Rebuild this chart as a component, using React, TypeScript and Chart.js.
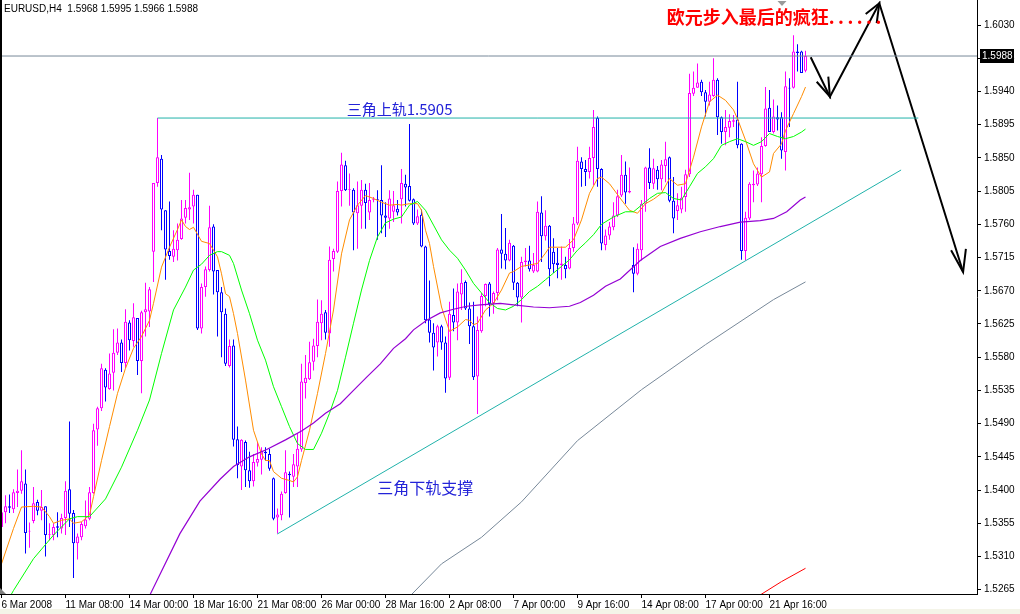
import React, { useEffect, useRef } from 'react';
import { Chart, registerables } from 'chart.js';

Chart.register(...registerables);

const SYMBOL = 'EURUSD';
const TIMEFRAME = 'H4';

// H4 candles, bar index 0..201
const opens = [
  1.5350, 1.5370, 1.5378, 1.5374, 1.5396, 1.5399, 1.5409, 1.5344, 1.5358, 1.5384,
  1.5372, 1.5378, 1.5339, 1.5339, 1.5351, 1.5348, 1.5362, 1.5401, 1.5369, 1.5328,
  1.5336, 1.5351, 1.5361, 1.5396, 1.5482, 1.5511, 1.5563, 1.5537, 1.5559, 1.5586,
  1.5600, 1.5572, 1.5627, 1.5602, 1.5633, 1.5575, 1.5641, 1.5642, 1.5723, 1.5816,
  1.5849, 1.5779, 1.5724, 1.5716, 1.5725, 1.5740, 1.5769, 1.5780, 1.5784, 1.5800,
  1.5619, 1.5675, 1.5698, 1.5757, 1.5698, 1.5668, 1.5639, 1.5568, 1.5596, 1.5469,
  1.5432, 1.5465, 1.5427, 1.5412, 1.5437, 1.5441, 1.5452, 1.5449, 1.5416, 1.5363,
  1.5366, 1.5396, 1.5422, 1.5418, 1.5432, 1.5455, 1.5545, 1.5550, 1.5574, 1.5595,
  1.5626, 1.5641, 1.5612, 1.5713, 1.5723, 1.5805, 1.5840, 1.5807, 1.5807, 1.5775,
  1.5785, 1.5807, 1.5776, 1.5793, 1.5794, 1.5793, 1.5772, 1.5768, 1.5777, 1.5781,
  1.5794, 1.5815, 1.5812, 1.5794, 1.5761, 1.5773, 1.5730, 1.5631, 1.5613, 1.5600,
  1.5622, 1.5600, 1.5552, 1.5637, 1.5627, 1.5665, 1.5682, 1.5646, 1.5622, 1.5554,
  1.5615, 1.5663, 1.5680, 1.5653, 1.5667, 1.5726, 1.5720, 1.5711, 1.5731, 1.5681,
  1.5661, 1.5709, 1.5711, 1.5696, 1.5696, 1.5776, 1.5744, 1.5758, 1.5723, 1.5708,
  1.5705, 1.5705, 1.5700, 1.5728, 1.5761, 1.5845, 1.5835, 1.5831, 1.5850, 1.5904,
  1.5835, 1.5732, 1.5745, 1.5756, 1.5772, 1.5799, 1.5827, 1.5803, 1.5705, 1.5693,
  1.5725, 1.5788, 1.5837, 1.5815, 1.5834, 1.5821, 1.5839, 1.5851, 1.5792, 1.5778,
  1.5780, 1.5797, 1.5828, 1.5937, 1.5945, 1.5953, 1.5939, 1.5926, 1.5934, 1.5956,
  1.5905, 1.5885, 1.5891, 1.5899, 1.5902, 1.5869, 1.5724, 1.5768, 1.5813, 1.5814,
  1.5828, 1.5866, 1.5918, 1.5885, 1.5905, 1.5905, 1.5858, 1.5945, 1.5945, 1.5994,
  1.5994, 1.5968,
];
const highs = [
  1.5377, 1.5393, 1.5394, 1.5401, 1.5428, 1.5454, 1.5428, 1.5356, 1.5404, 1.5387,
  1.5400, 1.5378, 1.5355, 1.5355, 1.5370, 1.5368, 1.5412, 1.5493, 1.5373, 1.5341,
  1.5357, 1.5386, 1.5404, 1.5490, 1.5513, 1.5571, 1.5565, 1.5585, 1.5618, 1.5619,
  1.5604, 1.5645, 1.5630, 1.5653, 1.5633, 1.5643, 1.5681, 1.5675, 1.5816, 1.5904,
  1.5854, 1.5779, 1.5791, 1.5752, 1.5761, 1.5793, 1.5793, 1.5830, 1.5807, 1.5800,
  1.5680, 1.5703, 1.5785, 1.5760, 1.5698, 1.5675, 1.5646, 1.5604, 1.5604, 1.5486,
  1.5469, 1.5467, 1.5452, 1.5449, 1.5465, 1.5458, 1.5458, 1.5456, 1.5417, 1.5375,
  1.5398, 1.5454, 1.5425, 1.5449, 1.5477, 1.5571, 1.5583, 1.5601, 1.5605, 1.5658,
  1.5657, 1.5644, 1.5730, 1.5727, 1.5818, 1.5857, 1.5846, 1.5829, 1.5809, 1.5818,
  1.5820, 1.5815, 1.5816, 1.5797, 1.5806, 1.5840, 1.5790, 1.5806, 1.5805, 1.5793,
  1.5835, 1.5827, 1.5896, 1.5795, 1.5780, 1.5780, 1.5731, 1.5684, 1.5626, 1.5624,
  1.5624, 1.5608, 1.5655, 1.5673, 1.5680, 1.5699, 1.5684, 1.5654, 1.5655, 1.5635,
  1.5667, 1.5680, 1.5682, 1.5669, 1.5728, 1.5774, 1.5755, 1.5739, 1.5732, 1.5682,
  1.5716, 1.5728, 1.5731, 1.5721, 1.5791, 1.5798, 1.5779, 1.5759, 1.5741, 1.5728,
  1.5730, 1.5716, 1.5740, 1.5770, 1.5865, 1.5851, 1.5847, 1.5865, 1.5915, 1.5906,
  1.5836, 1.5753, 1.5763, 1.5790, 1.5807, 1.5854, 1.5845, 1.5837, 1.5729, 1.5734,
  1.5793, 1.5838, 1.5863, 1.5849, 1.5839, 1.5847, 1.5872, 1.5852, 1.5824, 1.5802,
  1.5811, 1.5834, 1.5964, 1.5967, 1.5978, 1.5956, 1.5942, 1.5953, 1.5985, 1.5958,
  1.5906, 1.5915, 1.5909, 1.5908, 1.5953, 1.5870, 1.5777, 1.5817, 1.5833, 1.5837,
  1.5878, 1.5946, 1.5942, 1.5929, 1.5921, 1.5912, 1.5967, 1.5958, 1.6016, 1.6004,
  1.5995, 1.5995,
];
const lows = [
  1.5337, 1.5355, 1.5369, 1.5369, 1.5377, 1.5395, 1.5314, 1.5322, 1.5355, 1.5366,
  1.5359, 1.5310, 1.5332, 1.5332, 1.5336, 1.5341, 1.5339, 1.5350, 1.5281, 1.5306,
  1.5332, 1.5348, 1.5359, 1.5395, 1.5460, 1.5507, 1.5520, 1.5536, 1.5535, 1.5583,
  1.5560, 1.5565, 1.5589, 1.5594, 1.5556, 1.5531, 1.5608, 1.5621, 1.5682, 1.5811,
  1.5752, 1.5685, 1.5712, 1.5709, 1.5711, 1.5739, 1.5761, 1.5766, 1.5761, 1.5617,
  1.5612, 1.5662, 1.5696, 1.5665, 1.5608, 1.5580, 1.5568, 1.5566, 1.5459, 1.5416,
  1.5400, 1.5404, 1.5403, 1.5405, 1.5432, 1.5421, 1.5440, 1.5426, 1.5359, 1.5341,
  1.5359, 1.5395, 1.5363, 1.5404, 1.5404, 1.5452, 1.5524, 1.5549, 1.5562, 1.5580,
  1.5603, 1.5604, 1.5594, 1.5696, 1.5721, 1.5784, 1.5805, 1.5785, 1.5725, 1.5727,
  1.5754, 1.5754, 1.5766, 1.5790, 1.5739, 1.5748, 1.5743, 1.5754, 1.5763, 1.5772,
  1.5761, 1.5784, 1.5791, 1.5759, 1.5759, 1.5729, 1.5626, 1.5600, 1.5562, 1.5581,
  1.5590, 1.5532, 1.5549, 1.5615, 1.5603, 1.5644, 1.5644, 1.5598, 1.5549, 1.5503,
  1.5613, 1.5649, 1.5635, 1.5639, 1.5657, 1.5700, 1.5699, 1.5710, 1.5671, 1.5649,
  1.5627, 1.5703, 1.5696, 1.5694, 1.5695, 1.5709, 1.5738, 1.5676, 1.5694, 1.5687,
  1.5685, 1.5687, 1.5699, 1.5723, 1.5759, 1.5811, 1.5812, 1.5822, 1.5813, 1.5811,
  1.5725, 1.5725, 1.5739, 1.5752, 1.5770, 1.5797, 1.5788, 1.5802, 1.5668, 1.5691,
  1.5711, 1.5777, 1.5808, 1.5808, 1.5807, 1.5806, 1.5817, 1.5790, 1.5748, 1.5766,
  1.5775, 1.5777, 1.5824, 1.5934, 1.5945, 1.5934, 1.5906, 1.5921, 1.5933, 1.5881,
  1.5869, 1.5867, 1.5878, 1.5892, 1.5863, 1.5712, 1.5711, 1.5766, 1.5790, 1.5812,
  1.5790, 1.5865, 1.5885, 1.5883, 1.5887, 1.5849, 1.5833, 1.5892, 1.5944, 1.5967,
  1.5965, 1.5966,
];
const closes = [
  1.5370, 1.5378, 1.5376, 1.5397, 1.5399, 1.5412, 1.5342, 1.5345, 1.5382, 1.5372,
  1.5377, 1.5339, 1.5340, 1.5350, 1.5349, 1.5362, 1.5399, 1.5368, 1.5328, 1.5337,
  1.5354, 1.5360, 1.5397, 1.5481, 1.5511, 1.5565, 1.5539, 1.5558, 1.5586, 1.5600,
  1.5572, 1.5628, 1.5603, 1.5634, 1.5575, 1.5641, 1.5645, 1.5672, 1.5816, 1.5851,
  1.5780, 1.5726, 1.5717, 1.5727, 1.5739, 1.5768, 1.5782, 1.5783, 1.5800, 1.5619,
  1.5675, 1.5699, 1.5756, 1.5696, 1.5668, 1.5641, 1.5571, 1.5595, 1.5468, 1.5434,
  1.5468, 1.5427, 1.5412, 1.5438, 1.5442, 1.5453, 1.5450, 1.5429, 1.5361, 1.5367,
  1.5395, 1.5424, 1.5420, 1.5435, 1.5456, 1.5547, 1.5552, 1.5573, 1.5596, 1.5628,
  1.5639, 1.5613, 1.5712, 1.5724, 1.5805, 1.5841, 1.5806, 1.5808, 1.5776, 1.5786,
  1.5807, 1.5789, 1.5793, 1.5794, 1.5793, 1.5772, 1.5769, 1.5795, 1.5786, 1.5776,
  1.5816, 1.5810, 1.5792, 1.5761, 1.5771, 1.5730, 1.5630, 1.5613, 1.5593, 1.5622,
  1.5600, 1.5551, 1.5639, 1.5627, 1.5669, 1.5681, 1.5646, 1.5622, 1.5553, 1.5617,
  1.5663, 1.5679, 1.5652, 1.5667, 1.5726, 1.5720, 1.5711, 1.5735, 1.5681, 1.5661,
  1.5709, 1.5711, 1.5699, 1.5705, 1.5777, 1.5744, 1.5758, 1.5699, 1.5706, 1.5705,
  1.5707, 1.5699, 1.5728, 1.5761, 1.5846, 1.5835, 1.5831, 1.5850, 1.5892, 1.5835,
  1.5734, 1.5745, 1.5757, 1.5772, 1.5798, 1.5827, 1.5803, 1.5805, 1.5693, 1.5727,
  1.5788, 1.5837, 1.5816, 1.5836, 1.5821, 1.5841, 1.5848, 1.5792, 1.5768, 1.5786,
  1.5796, 1.5828, 1.5938, 1.5945, 1.5952, 1.5939, 1.5926, 1.5936, 1.5956, 1.5905,
  1.5885, 1.5892, 1.5900, 1.5901, 1.5867, 1.5724, 1.5769, 1.5815, 1.5815, 1.5829,
  1.5866, 1.5917, 1.5885, 1.5906, 1.5902, 1.5860, 1.5947, 1.5944, 1.5994, 1.5992,
  1.5965, 1.5988,
];

// time axis labels (bar index -> label)
const timeTickBars = [0, 16, 32, 48, 64, 80, 96, 112, 128, 144, 160, 176, 192];
const timeTickLabels = [
  '6 Mar 2008', '11 Mar 08:00', '14 Mar 00:00', '18 Mar 16:00', '21 Mar 08:00',
  '26 Mar 00:00', '28 Mar 16:00', '2 Apr 08:00', '7 Apr 00:00', '9 Apr 16:00',
  '14 Apr 08:00', '17 Apr 00:00', '21 Apr 16:00',
];
// price axis labels
const priceTicks = [
  1.5265, 1.5310, 1.5355, 1.5400, 1.5445, 1.5490, 1.5535, 1.5580, 1.5625,
  1.5670, 1.5715, 1.5760, 1.5805, 1.5850, 1.5895, 1.5940, 1.5985, 1.6030,
];

// moving averages: [bar, price]
const maOrange: [number, number][] = [
  [0, 1.5300], [3, 1.5348], [5, 1.5377], [8, 1.5378], [10, 1.5377], [12, 1.5364], [13, 1.5355],
  [15, 1.5359], [17, 1.5361], [18, 1.5355], [20, 1.5357], [22, 1.5366], [23, 1.5391], [25, 1.5440],
  [27, 1.5486], [29, 1.5531], [31, 1.5565], [33, 1.5592], [35, 1.5608], [37, 1.5630], [38, 1.5653],
  [40, 1.5702], [42, 1.5729], [44, 1.5753], [45, 1.5766], [46, 1.5757], [47, 1.5753], [48, 1.5756],
  [50, 1.5737], [52, 1.5734], [54, 1.5716], [55, 1.5693], [56, 1.5666], [57, 1.5662], [58, 1.5639],
  [59, 1.5612], [61, 1.5549], [63, 1.5481], [65, 1.5449], [66, 1.5440], [67, 1.5440], [68, 1.5425],
  [70, 1.5416], [72, 1.5413], [73, 1.5411], [74, 1.5418], [75, 1.5440], [77, 1.5481], [79, 1.5531],
  [81, 1.5585], [83, 1.5644], [85, 1.5720], [87, 1.5766], [89, 1.5786], [91, 1.5799], [93, 1.5795],
  [95, 1.5790], [97, 1.5786], [99, 1.5787], [100, 1.5786], [102, 1.5788], [104, 1.5788], [105, 1.5779],
  [106, 1.5752], [107, 1.5734], [108, 1.5703], [110, 1.5648], [112, 1.5615], [114, 1.5621], [116, 1.5631],
  [117, 1.5630], [118, 1.5624], [119, 1.5626], [121, 1.5644], [123, 1.5653], [125, 1.5671], [127, 1.5694],
  [128, 1.5696], [130, 1.5703], [132, 1.5705], [134, 1.5707], [136, 1.5721], [137, 1.5729], [139, 1.5729],
  [141, 1.5729], [143, 1.5739], [145, 1.5766], [147, 1.5802], [149, 1.5822], [150, 1.5824], [152, 1.5815],
  [155, 1.5793], [157, 1.5779], [159, 1.5775], [161, 1.5788], [163, 1.5794], [165, 1.5802], [167, 1.5822],
  [169, 1.5813], [171, 1.5815], [173, 1.5851], [175, 1.5892], [177, 1.5926], [179, 1.5935], [181, 1.5928],
  [183, 1.5915], [184, 1.5903], [186, 1.5874], [188, 1.5842], [190, 1.5824], [192, 1.5831], [193, 1.5856],
  [195, 1.5869], [196, 1.5887], [198, 1.5910], [200, 1.5933], [201, 1.5946],
];
const maGreen: [number, number][] = [
  [1, 1.5245], [3, 1.5264], [8, 1.5307], [13, 1.5339], [17, 1.5361], [19, 1.5364], [22, 1.5364],
  [26, 1.5388], [30, 1.5431], [34, 1.5481], [37, 1.5522], [40, 1.5585], [43, 1.5644], [46, 1.5675],
  [48, 1.5698], [50, 1.5706], [52, 1.5718], [54, 1.5723], [55, 1.5723], [57, 1.5718], [58, 1.5707],
  [60, 1.5671], [62, 1.5639], [64, 1.5603], [66, 1.5576], [68, 1.5540], [70, 1.5513], [72, 1.5486],
  [74, 1.5463], [76, 1.5455], [78, 1.5455], [80, 1.5477], [82, 1.5504], [84, 1.5535], [86, 1.5580],
  [88, 1.5626], [90, 1.5671], [92, 1.5711], [94, 1.5743], [96, 1.5762], [98, 1.5767], [100, 1.5770],
  [102, 1.5786], [104, 1.5791], [106, 1.5779], [108, 1.5759], [110, 1.5739], [112, 1.5725], [114, 1.5714],
  [116, 1.5698], [118, 1.5680], [120, 1.5667], [122, 1.5654], [124, 1.5646], [126, 1.5644], [128, 1.5649],
  [130, 1.5658], [132, 1.5669], [134, 1.5676], [136, 1.5685], [138, 1.5694], [140, 1.5703], [142, 1.5712],
  [144, 1.5725], [146, 1.5735], [148, 1.5746], [150, 1.5760], [153, 1.5770], [156, 1.5777], [158, 1.5777],
  [160, 1.5786], [162, 1.5795], [164, 1.5802], [166, 1.5803], [168, 1.5795], [170, 1.5793], [172, 1.5811],
  [174, 1.5829], [176, 1.5838], [178, 1.5849], [180, 1.5867], [182, 1.5872], [184, 1.5876], [186, 1.5872],
  [188, 1.5867], [190, 1.5872], [192, 1.5883], [194, 1.5879], [196, 1.5876], [198, 1.5879], [200, 1.5885],
  [201, 1.5889],
];
const maPurple: [number, number][] = [
  [36, 1.5245], [37.2, 1.5259], [44.6, 1.5341], [49.6, 1.5385], [54.7, 1.5415], [58, 1.5432],
  [62, 1.5445], [66.3, 1.5455], [71, 1.5468], [75, 1.5480], [78, 1.5491], [81, 1.5504], [84.7, 1.5517],
  [88, 1.5535], [91.3, 1.5553], [94.7, 1.5571], [98, 1.5592], [101, 1.5605], [103, 1.5617],
  [106.3, 1.5630], [109.7, 1.5640], [113, 1.5645], [116.3, 1.5649], [119.7, 1.5651], [124.7, 1.5653],
  [128, 1.5651], [133, 1.5648], [137, 1.5647], [142, 1.5649], [144.7, 1.5654], [148, 1.5664],
  [151, 1.5676], [154.7, 1.5686], [159.7, 1.5711], [164.7, 1.5730], [169.7, 1.5741], [174.7, 1.5750],
  [179.7, 1.5757], [184.7, 1.5763], [189.7, 1.5765], [193, 1.5768], [196.3, 1.5777], [199.7, 1.5793],
  [201, 1.5797],
];
const maGray: [number, number][] = [
  [100, 1.5240], [102.6, 1.5259], [110, 1.5300], [120, 1.5336], [130, 1.5384], [144, 1.5467],
  [160, 1.5536], [176, 1.5597], [193, 1.5658], [201, 1.5682],
];
const maRed: [number, number][] = [
  [188, 1.5250], [190, 1.5259], [195, 1.5276], [201, 1.5294],
];

// drawn objects: [bar, price]
const upperRail: [number, number][] = [[39, 1.5904], [229.2, 1.5904]];
const lowerRail: [number, number][] = [[68.95, 1.53405], [224.9, 1.58336]];
const forecastPath: [number, number][] = [
  [202.3, 1.59863], [207.1, 1.59329], [219.45, 1.60594], [240.4, 1.56954],
];
const arrowHeads: [number, number][][] = [
  [[203.8, 1.59532], [207.1, 1.59329], [206.7, 1.59600]],
  [[216.05, 1.60449], [219.45, 1.60594], [218.8, 1.60327]],
  [[237.4, 1.57250], [240.4, 1.56954], [241.1, 1.57266]],
];

const notes = [
  { text: '欧元步入最后的疯狂', tail: '......', bar: 166.3, price: 1.60402, color: '#ff0000', size: 18, weight: 'bold' },
  { text: '三角上轨1.5905', tail: '', bar: 86.3, price: 1.59162, color: '#2323d8', size: 15, weight: 'normal' },
  { text: '三角下轨支撑', tail: '', bar: 93.95, price: 1.54024, color: '#2323d8', size: 16, weight: 'normal' },
];

const SHIFT_BAR = 195;
const Y_MIN = 1.52592;
const Y_MAX = 1.60639;
const X_MIN = -0.375;
const X_MAX = 243.875;

const UI_FONT = "'Liberation Sans', Arial, sans-serif";
const UI_SIZE = 10;
const CJK_FONT = "'Noto Sans CJK SC', 'Noto Sans', sans-serif";
const UP = '#ff00ff';
const DOWN = '#0000ff';

const pts = (a: [number, number][]) => a.map(([x, y]) => ({ x, y }));

const overlayPlugin = {
  id: 'mtOverlay',
  afterDraw(chart: any) {
    const { ctx, chartArea, scales } = chart;
    const xs = scales.x;
    const ys = scales.y;
    ctx.save();
    // left frame
    ctx.fillStyle = '#000';
    ctx.fillRect(0, 0, 2, chartArea.bottom);

    // header line
    const last = closes.length - 1;
    const header = `${SYMBOL},${TIMEFRAME}  ${opens[last].toFixed(4)} ${highs[last].toFixed(4)} ${lows[last].toFixed(4)} ${closes[last].toFixed(4)}`;
    ctx.font = `${UI_SIZE}px ${UI_FONT}`;
    ctx.fillStyle = '#000';
    ctx.textBaseline = 'top';
    ctx.textAlign = 'left';
    ctx.fillText(header, chartArea.left + 4, 4);

    // notes
    for (const n of notes) {
      const px = xs.getPixelForValue(n.bar);
      const py = ys.getPixelForValue(n.price);
      ctx.font = `${n.weight} ${n.size}px ${CJK_FONT}`;
      ctx.fillStyle = n.color;
      ctx.textBaseline = 'middle';
      ctx.fillText(n.text, px, py);
      if (n.tail) {
        const w = ctx.measureText(n.text).width;
        (ctx as any).letterSpacing = '3.5px';
        ctx.fillText(n.tail, px + w, py);
        (ctx as any).letterSpacing = '0px';
      }
    }

    // current price box on the axis
    const cp = closes[last];
    const cy = Math.round(ys.getPixelForValue(cp));
    ctx.fillStyle = '#000';
    ctx.fillRect(chartArea.right + 3, cy - 7, 34, 14);
    ctx.fillStyle = '#fff';
    ctx.font = `${UI_SIZE}px ${UI_FONT}`;
    ctx.textBaseline = 'middle';
    ctx.fillText(cp.toFixed(4), chartArea.right + 5, cy + 0.5);

    // chart shift marker
    const sx = Math.round(xs.getPixelForValue(SHIFT_BAR));
    ctx.fillStyle = '#9a9a9a';
    ctx.beginPath();
    ctx.moveTo(sx - 4.5, chartArea.top + 1);
    ctx.lineTo(sx + 4.5, chartArea.top + 1);
    ctx.lineTo(sx, chartArea.top + 6);
    ctx.closePath();
    ctx.fill();

    // corner marker
    ctx.fillStyle = '#7f7f7f';
    ctx.beginPath();
    ctx.moveTo(chartArea.left, chartArea.bottom - 6);
    ctx.lineTo(chartArea.left + 6, chartArea.bottom);
    ctx.lineTo(chartArea.left, chartArea.bottom);
    ctx.closePath();
    ctx.fill();
    ctx.restore();
  },
};

export default function App() {
  const ref = useRef<HTMLCanvasElement>(null);
  useEffect(() => {
    document.body.style.margin = '0';
    const canvas = ref.current;
    if (!canvas) return;
    const idx = opens.map((_, i) => i);
    const colors = idx.map((i) => (closes[i] >= opens[i] ? UP : DOWN));
    const lineDs = (label: string, data: [number, number][], color: string, width: number) => ({
      type: 'line' as const,
      label,
      data: pts(data),
      borderColor: color,
      borderWidth: width,
      pointRadius: 0,
      tension: 0,
      fill: false,
      order: 0,
    });
    const cp = closes[closes.length - 1];
    const datasets: any[] = [
      {
        type: 'bar', label: 'wicks', order: 3,
        data: idx.map((i) => ({ x: i, y: [lows[i], highs[i]] })),
        backgroundColor: colors, borderWidth: 0, barThickness: 1, grouped: false, inflateAmount: 0,
      },
      {
        type: 'bar', label: 'bodies', order: 2,
        data: idx.map((i) => ({ x: i, y: [opens[i], closes[i]] })),
        backgroundColor: '#ffffff', borderColor: colors, borderWidth: 1, borderSkipped: false,
        barThickness: 3, grouped: false, inflateAmount: 0,
      },
      lineDs('MA gray', maGray, '#778899', 1),
      lineDs('MA red', maRed, '#ff0000', 1),
      lineDs('MA purple', maPurple, '#9400d3', 1.2),
      lineDs('MA green', maGreen, '#00ff00', 1),
      lineDs('MA orange', maOrange, '#ff8c00', 1),
      lineDs('price', [[X_MIN - 1, cp], [X_MAX + 1, cp]], '#778899', 1),
      lineDs('upper rail', upperRail, '#20b2aa', 1),
      lineDs('lower rail', lowerRail, '#20b2aa', 1),
      lineDs('forecast', forecastPath, '#000000', 2),
      ...arrowHeads.map((h, k) => lineDs('head' + k, h, '#000000', 2)),
    ];
    const chart = new Chart(canvas, {
      type: 'bar',
      data: { datasets },
      options: {
        animation: false,
        responsive: false,
        maintainAspectRatio: false,
        devicePixelRatio: 1,
        events: [],
        layout: { padding: 0 },
        plugins: { legend: { display: false }, tooltip: { enabled: false }, title: { display: false } },
        scales: {
          x: {
            type: 'linear', min: X_MIN, max: X_MAX, offset: false, bounds: 'data',
            afterBuildTicks: (s: any) => { s.ticks = timeTickBars.map((v) => ({ value: v })); },
            afterFit: (s: any) => { s.height = 20; s.paddingLeft = 0; s.paddingRight = 0; },
            ticks: {
              callback: (v: any) => { const k = timeTickBars.indexOf(Number(v)); return k >= 0 ? timeTickLabels[k] : ''; },
              align: 'start', maxRotation: 0, minRotation: 0, autoSkip: false, padding: 1,
              color: '#000', font: { family: UI_FONT, size: UI_SIZE },
            },
            grid: { display: true, drawOnChartArea: false, drawTicks: true, tickLength: 4, color: '#000', offset: false },
            border: { display: true, color: '#000', width: 1 },
          },
          y: {
            type: 'linear', position: 'right', min: Y_MIN, max: Y_MAX, bounds: 'data',
            afterBuildTicks: (s: any) => { s.ticks = priceTicks.map((v) => ({ value: v })); },
            afterFit: (s: any) => { s.width = 43; s.paddingTop = 0; s.paddingBottom = 0; },
            ticks: {
              callback: (v: any) => Number(v).toFixed(4), autoSkip: false, padding: 3,
              color: '#000', font: { family: UI_FONT, size: UI_SIZE },
            },
            grid: { display: true, drawOnChartArea: false, drawTicks: true, tickLength: 4, color: '#000' },
            border: { display: true, color: '#000', width: 1 },
          },
        },
      } as any,
      plugins: [overlayPlugin],
    });
    return () => chart.destroy();
  }, []);
  return (
    <div style={{ width: 1020, height: 614, background: 'linear-gradient(#ffffff 0, #ffffff 609px, #f4f4e8 609px)' }}>
      <canvas ref={ref} width={1020} height={614} style={{ display: 'block', width: 1020, height: 614 }} />
    </div>
  );
}
